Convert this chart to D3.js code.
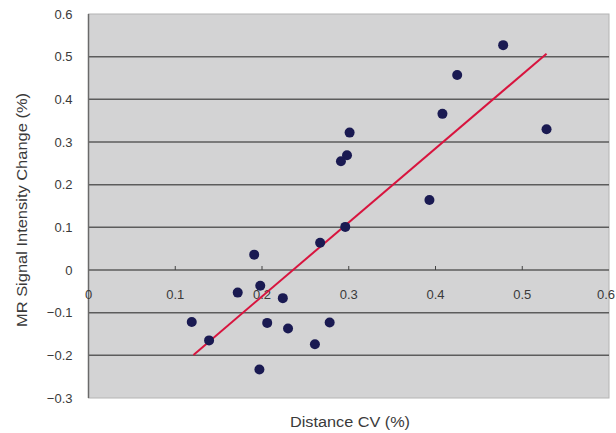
<!DOCTYPE html>
<html>
<head>
<meta charset="utf-8">
<script src="https://cdn.jsdelivr.net/npm/d3@7"></script>
<style>
    body {margin: 0; background: #fff;}
    svg text {font-family: "Liberation Sans", "DejaVu Sans", sans-serif; fill: #3a3a3a;}
</style>
</head>
<body>
<svg id="chart" width="616" height="433"></svg>
<script>
const distanceCV = [0.478, 0.425, 0.408, 0.528, 0.301, 0.298, 0.291, 0.296, 0.267, 0.191, 0.393,
    0.198, 0.172, 0.224, 0.119, 0.206, 0.230, 0.278, 0.139, 0.261, 0.197]
const signalChange = [0.527, 0.457, 0.366, 0.330, 0.322, 0.269, 0.255, 0.101, 0.064, 0.036, 0.164,
    -0.037, -0.053, -0.066, -0.122, -0.124, -0.137, -0.123, -0.165, -0.174, -0.233]
const trendX = [0.121, 0.528]
const trendY = [-0.199, 0.507]
const xTicks = [0, 0.1, 0.2, 0.3, 0.4, 0.5, 0.6]
const yTicks = [-0.3, -0.2, -0.1, 0, 0.1, 0.2, 0.3, 0.4, 0.5, 0.6]

const margin = {top: 14, right: 7, bottom: 35, left: 88.5}
const width = 616 - margin.left - margin.right
const height = 433 - margin.top - margin.bottom

const x = d3.scaleLinear().domain([0, 0.6]).range([0, width])
const y = d3.scaleLinear().domain([-0.3, 0.6]).range([height, 0])

const svg = d3.select("#chart")
    .append("g")
    .attr("transform", "translate(" + margin.left + "," + margin.top + ")")

// plot background
svg.append("rect")
    .attr("width", width)
    .attr("height", height)
    .style("fill", "#d3d3d4")
    .style("stroke", "#b4b4b4")

// horizontal grid lines
svg.append("g")
    .selectAll("line")
    .data(yTicks.filter(d => d > -0.3 && d < 0.6))
    .enter()
    .append("line")
    .attr("x1", 0)
    .attr("x2", width)
    .attr("y1", d => y(d))
    .attr("y2", d => y(d))
    .style("stroke", "#5c5c5c")
    .style("stroke-width", 1.5)

// left axis line
svg.append("line")
    .attr("x1", 0).attr("x2", 0)
    .attr("y1", 0).attr("y2", height)
    .style("stroke", "#6a6a6a")
    .style("stroke-width", 1.5)

// y tick labels
svg.append("g")
    .selectAll("text")
    .data(yTicks)
    .enter()
    .append("text")
    .attr("x", -16)
    .attr("y", d => y(d))
    .attr("dy", ".35em")
    .style("text-anchor", "end")
    .style("font-size", "13px")
    .text(d => d3.format("")(+d.toFixed(1)))

// x axis sits on zero
const xAxis = svg.append("g")
    .attr("transform", "translate(0," + y(0) + ")")
xAxis.selectAll("line")
    .data(xTicks.slice(1, -1))
    .enter()
    .append("line")
    .attr("x1", d => x(d)).attr("x2", d => x(d))
    .attr("y1", 0).attr("y2", -4)
    .style("stroke", "#444")
// last label would run off the right edge, so it is pinned to it
const lastTick = xTicks[xTicks.length - 1]
xAxis.selectAll("text")
    .data(xTicks)
    .enter()
    .append("text")
    .attr("x", d => d === lastTick ? width + margin.right - 1 : x(d))
    .attr("y", 24)
    .attr("dy", ".35em")
    .style("text-anchor", d => d === lastTick ? "end" : "middle")
    .style("font-size", "13px")
    .text(d => d3.format("")(+d.toFixed(1)))

// trend line
svg.append("line")
    .attr("x1", x(trendX[0])).attr("y1", y(trendY[0]))
    .attr("x2", x(trendX[1])).attr("y2", y(trendY[1]))
    .style("stroke", "#d8143e")
    .style("stroke-width", 2)

// points
svg.append("g")
    .selectAll("circle")
    .data(distanceCV.map((d, i) => [d, signalChange[i]]))
    .enter()
    .append("circle")
    .attr("cx", d => x(d[0]))
    .attr("cy", d => y(d[1]))
    .attr("r", 5)
    .style("fill", "#1a1a52")

// axis titles
svg.append("text")
    .attr("x", 350 - margin.left)
    .attr("y", height + 29)
    .attr("textLength", 120)
    .attr("lengthAdjust", "spacingAndGlyphs")
    .style("text-anchor", "middle")
    .style("font-size", "14px")
    .text("Distance CV (%)")

svg.append("text")
    .attr("transform", "rotate(-90)")
    .attr("x", -(210 - margin.top))
    .attr("y", -margin.left + 27)
    .attr("textLength", 234)
    .attr("lengthAdjust", "spacingAndGlyphs")
    .style("text-anchor", "middle")
    .style("font-size", "14px")
    .text("MR Signal Intensity Change (%)")
</script>
</body>
</html>
